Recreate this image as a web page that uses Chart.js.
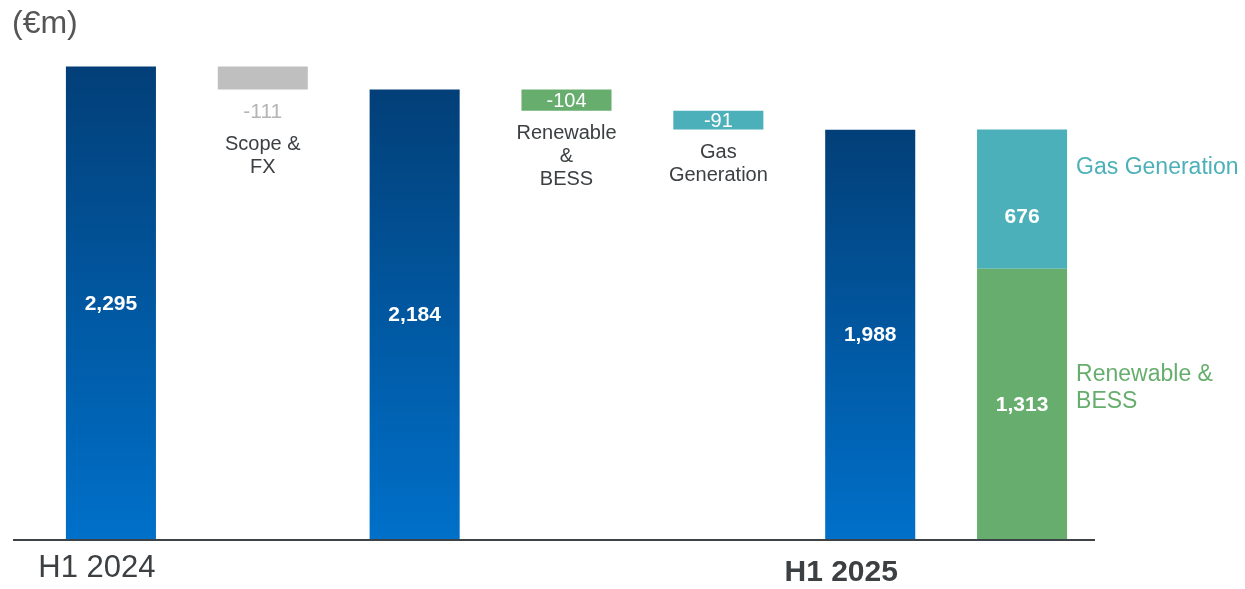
<!DOCTYPE html>
<html><head><meta charset="utf-8">
<script src="https://cdn.jsdelivr.net/npm/chart.js@4.4.1/dist/chart.umd.min.js"></script>
<style>html,body{margin:0;padding:0;background:#fff;overflow:hidden}canvas{display:block}</style>
</head><body>
<canvas id="c" width="1245" height="589"></canvas>
<script>
// ---- data ----
const unitLabel = '(€m)';
const categories = ['H1 2024', 'Scope & FX', 'H1 2024 restated', 'Renewable & BESS', 'Gas Generation', 'H1 2025', 'H1 2025 by business'];
const tickLabels = ['H1 2024', '', '', '', '', 'H1 2025', ''];
const deltaNames = [null, ['Scope &', 'FX'], null, ['Renewable', '&', 'BESS'], ['Gas', 'Generation'], null, null];
const totals = [2295, null, 2184, null, null, 1988, null];
const deltas = [null, -111, null, -104, -91, null, null];
const renewableBess = [null, null, null, null, null, null, 1313];
const gasGeneration = [null, null, null, null, null, null, 676];
const segmentNames = [['Renewable &', 'BESS'], ['Gas Generation']];

// ---- styles ----
const FONT = "'Liberation Sans', Arial, sans-serif";
const C = { blueTop: '#023f78', blueBottom: '#0070c9', scope: '#bfbfbf', ren: '#67ae6e', gas: '#4bb0b9', text: '#3c4043', axis: '#3d4246' };
const deltaColors = [null, C.scope, null, C.ren, C.gas, null, null];
const deltaValueInside = [null, false, null, true, true, null, null];

// ---- build floating ranges ----
let level = 0;
const mainData = categories.map((c, i) => {
  if (totals[i] != null) { level = totals[i]; return [0, totals[i]]; }
  if (deltas[i] != null) { const top = level; level = level + deltas[i]; return [level, top]; }
  if (renewableBess[i] != null) return [0, renewableBess[i]];
  return null;
});
const gasData = categories.map((c, i) => gasGeneration[i] != null ? [renewableBess[i], renewableBess[i] + gasGeneration[i]] : null);

function fmt(v) { return v.toLocaleString('en-US'); }

function mainColor(ctx) {
  const i = ctx.dataIndex;
  if (deltas[i] != null) return deltaColors[i];
  if (renewableBess[i] != null) return C.ren;
  const y = ctx.chart.scales && ctx.chart.scales.y;
  const raw = ctx.raw;
  if (!y || !raw) return '#0058a0';
  const top = y.getPixelForValue(raw[1]), bottom = y.getPixelForValue(raw[0]);
  if (!isFinite(top) || !isFinite(bottom)) return '#0058a0';
  const g = ctx.chart.ctx.createLinearGradient(0, top, 0, bottom);
  g.addColorStop(0, C.blueTop);
  g.addColorStop(1, C.blueBottom);
  return g;
}

const labelPlugin = {
  id: 'labels',
  afterDatasetsDraw(chart) {
    const ctx = chart.ctx;
    const xs = chart.scales.x, ys = chart.scales.y;
    const main = chart.getDatasetMeta(0).data;
    const gas = chart.getDatasetMeta(1).data;
    ctx.save();
    ctx.textAlign = 'center';
    ctx.textBaseline = 'middle';

    main.forEach((el, i) => {
      if (!mainData[i]) return;
      const top = Math.min(el.y, el.base), bot = Math.max(el.y, el.base);
      const mid = (top + bot) / 2;
      if (totals[i] != null || renewableBess[i] != null) {
        ctx.font = 'bold 21px ' + FONT;
        ctx.fillStyle = '#ffffff';
        const v = totals[i] != null ? totals[i] : renewableBess[i];
        ctx.fillText(fmt(v), el.x, mid + 1);
      } else if (deltas[i] != null) {
        let y0;
        if (deltaValueInside[i]) {
          ctx.font = '20px ' + FONT;
          ctx.fillStyle = '#ffffff';
          ctx.fillText(fmt(deltas[i]), el.x, mid + 1);
          y0 = bot + 23;
        } else {
          ctx.font = '21px ' + FONT;
          ctx.fillStyle = '#b5b5b5';
          ctx.fillText(fmt(deltas[i]), el.x, bot + 23);
          y0 = bot + 55;
        }
        ctx.font = '20px ' + FONT;
        ctx.fillStyle = C.text;
        deltaNames[i].forEach((line, k) => ctx.fillText(line, el.x, y0 + k * 23));
      }
    });

    gas.forEach((el, i) => {
      if (!gasData[i]) return;
      const top = Math.min(el.y, el.base), bot = Math.max(el.y, el.base);
      ctx.font = 'bold 21px ' + FONT;
      ctx.fillStyle = '#ffffff';
      ctx.fillText(fmt(gasGeneration[i]), el.x, (top + bot) / 2 + 18);
      // side labels
      ctx.textAlign = 'left';
      ctx.font = '23px ' + FONT;
      const xr = el.x + el.width / 2 + 9;
      ctx.fillStyle = C.gas;
      segmentNames[1].forEach((l, k) => ctx.fillText(l, xr, (top + bot) / 2 - 32 + k * 27));
      const r = main[i];
      const rt = Math.min(r.y, r.base), rb = Math.max(r.y, r.base);
      ctx.fillStyle = C.ren;
      segmentNames[0].forEach((l, k) => ctx.fillText(l, xr, (rt + rb) / 2 - 29 + k * 27));
      ctx.textAlign = 'center';
    });

    // baseline axis
    const y0 = ys.getPixelForValue(0);
    ctx.strokeStyle = C.axis;
    ctx.lineWidth = 2;
    ctx.beginPath();
    ctx.moveTo(chart.chartArea.left - 22, y0 + 1);
    ctx.lineTo(chart.chartArea.right - 3, y0 + 1);
    ctx.stroke();

    // category tick labels
    const tickStyle = [
      { font: '31px ' + FONT, dx: -14, y: 568 - y0 },
      null, null, null, null,
      { font: 'bold 30px ' + FONT, dx: -29, y: 573 - y0 },
      null
    ];
    tickLabels.forEach((t, i) => {
      if (!t) return;
      const s = tickStyle[i];
      ctx.font = s.font;
      ctx.fillStyle = C.text;
      ctx.fillText(t, xs.getPixelForValue(i) + s.dx, y0 + s.y);
    });

    // unit label
    ctx.textAlign = 'left';
    ctx.font = '32px ' + FONT;
    ctx.fillStyle = '#555555';
    ctx.fillText(unitLabel, 12, 24);
    ctx.restore();
  }
};

new Chart(document.getElementById('c'), {
  type: 'bar',
  data: {
    labels: categories,
    datasets: [
      { label: 'main', data: mainData, backgroundColor: mainColor, borderWidth: 0, barPercentage: 0.593, categoryPercentage: 1 },
      { label: 'Gas Generation', data: gasData, backgroundColor: C.gas, borderWidth: 0, barPercentage: 0.593, categoryPercentage: 1 }
    ]
  },
  options: {
    responsive: false,
    animation: false,
    layout: { padding: { left: 35, right: 147, top: 45, bottom: 50 } },
    plugins: { legend: { display: false }, tooltip: { enabled: false } },
    scales: {
      x: { display: false, stacked: true },
      y: { display: false, stacked: false, min: 0, max: 2400 }
    }
  },
  plugins: [labelPlugin]
});
</script>
</body></html>
